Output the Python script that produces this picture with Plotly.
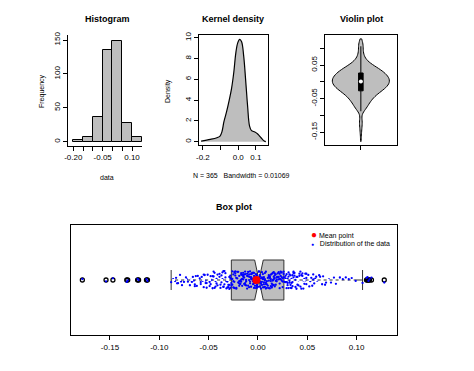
import numpy as np
import plotly.graph_objects as go

data = [
    -0.178, -0.154, -0.147, -0.133, -0.132, -0.122, -0.121, -0.113, -0.112,
    -0.088, -0.086, -0.084, -0.083, -0.082, -0.081,
    -0.079, -0.078, -0.077, -0.075, -0.074, -0.073, -0.072, -0.071,
    -0.069, -0.068, -0.067, -0.066, -0.065, -0.064, -0.064, -0.063, -0.062, -0.061,
    -0.059, -0.058, -0.058, -0.057, -0.056, -0.055, -0.055, -0.054, -0.053, -0.053,
    -0.052, -0.052, -0.051,
    -0.049, -0.049, -0.048, -0.048, -0.047, -0.046, -0.046, -0.045, -0.045, -0.044,
    -0.044, -0.043, -0.043, -0.042, -0.042, -0.041, -0.041,
    -0.039, -0.039, -0.038, -0.038, -0.037, -0.037, -0.036, -0.036, -0.035, -0.035,
    -0.035, -0.034, -0.034, -0.033, -0.033, -0.032, -0.032, -0.031, -0.031, -0.030, -0.030,
    -0.029, -0.029, -0.029, -0.028, -0.028, -0.028, -0.027, -0.027, -0.027, -0.026,
    -0.026, -0.026, -0.025, -0.025, -0.025, -0.024, -0.024, -0.024, -0.023, -0.023,
    -0.023, -0.022, -0.022, -0.022, -0.021, -0.021, -0.020, -0.020,
    -0.019, -0.019, -0.019, -0.019, -0.018, -0.018, -0.018, -0.017, -0.017, -0.017,
    -0.017, -0.016, -0.016, -0.016, -0.015, -0.015, -0.015, -0.015, -0.014, -0.014,
    -0.014, -0.013, -0.013, -0.013, -0.013, -0.012, -0.012, -0.012, -0.011, -0.011,
    -0.011, -0.010, -0.010, -0.010,
    -0.009, -0.009, -0.009, -0.009, -0.008, -0.008, -0.008, -0.008, -0.007, -0.007,
    -0.007, -0.007, -0.006, -0.006, -0.006, -0.005, -0.005, -0.005, -0.005, -0.004,
    -0.004, -0.004, -0.004, -0.003, -0.003, -0.003, -0.003, -0.002, -0.002, -0.002,
    -0.002, -0.001, -0.001, -0.001, -0.001, -0.001,
    0.001, 0.001, 0.001, 0.001, 0.002, 0.002, 0.002, 0.002, 0.003, 0.003,
    0.003, 0.003, 0.004, 0.004, 0.004, 0.004, 0.005, 0.005, 0.005, 0.005,
    0.006, 0.006, 0.006, 0.006, 0.007, 0.007, 0.007, 0.007, 0.008, 0.008,
    0.008, 0.008, 0.009, 0.009, 0.009, 0.010, 0.010,
    0.011, 0.011, 0.011, 0.011, 0.012, 0.012, 0.012, 0.012, 0.013, 0.013,
    0.013, 0.013, 0.014, 0.014, 0.014, 0.014, 0.015, 0.015, 0.015, 0.015,
    0.016, 0.016, 0.016, 0.016, 0.017, 0.017, 0.017, 0.017, 0.018, 0.018,
    0.018, 0.019, 0.019, 0.019, 0.020, 0.020,
    0.021, 0.021, 0.021, 0.022, 0.022, 0.022, 0.022, 0.023, 0.023, 0.023,
    0.024, 0.024, 0.024, 0.025, 0.025, 0.025, 0.026, 0.026, 0.026, 0.027,
    0.027, 0.027, 0.028, 0.028, 0.028, 0.029, 0.029, 0.029, 0.030, 0.030, 0.030,
    0.031, 0.031, 0.031, 0.032, 0.032, 0.032, 0.033, 0.033, 0.033, 0.034,
    0.034, 0.034, 0.035, 0.035, 0.035, 0.036, 0.036, 0.036, 0.037, 0.037,
    0.038, 0.038, 0.039, 0.039, 0.040, 0.040,
    0.041, 0.041, 0.042, 0.042, 0.043, 0.043, 0.044, 0.044, 0.045, 0.045,
    0.046, 0.046, 0.047, 0.047, 0.048, 0.048, 0.049, 0.049, 0.049,
    0.051, 0.052, 0.053, 0.054, 0.055, 0.056, 0.056, 0.057, 0.058, 0.059, 0.060,
    0.062, 0.063, 0.065, 0.066, 0.068, 0.069,
    0.072, 0.074, 0.077, 0.079,
    0.083, 0.086, 0.089,
    0.092, 0.095, 0.099,
    0.106, 0.110, 0.111, 0.112, 0.113, 0.115, 0.128,
]

# kernel density curve (bw = 0.01069)
dens_x = [-0.210, -0.158, -0.121, -0.103, -0.092, -0.081, -0.066, -0.051, -0.038, -0.025,
          -0.014, -0.003, 0.008, 0.019, 0.031, 0.042, 0.053, 0.064, 0.075, 0.094,
          0.110, 0.129, 0.147, 0.156]
dens_y = [0.06, 0.22, 0.38, 0.54, 0.96, 1.92, 2.88, 4.0, 5.1, 6.7,
          8.5, 9.5, 9.84, 9.6, 8.2, 5.9, 3.4, 1.5, 1.06, 0.93,
          0.74, 0.38, 0.06, 0.0]

hist_ticks = [-0.20, -0.15, -0.10, -0.05, 0.00, 0.05, 0.10]
hist_labels = ["-0.20", "", "", "-0.05", "", "", "0.10"]
dens_xticks = [-0.2, -0.1, 0.0, 0.1]
dens_xlabels = ["-0.2", "", "0.0", "0.1"]
dens_yticks = [0, 2, 4, 6, 8, 10]
violin_ticks = [-0.15, -0.10, -0.05, 0.00, 0.05, 0.10]
violin_labels = ["-0.15", "", "-0.05", "", "0.05", ""]
box_ticks = [-0.15, -0.10, -0.05, 0.00, 0.05, 0.10]
box_labels = ["-0.15", "-0.10", "-0.05", "0.00", "0.05", "0.10"]

W, H = 474, 371
GRAY = "#BEBEBE"
FONT = "Liberation Sans, Arial, sans-serif"


def dx(a, b):
    return [a / W, b / W]


def dy(top, bottom):
    return [1 - bottom / H, 1 - top / H]


values = np.array(data)
q1, q3 = np.percentile(values, [25, 75])
iqr = q3 - q1
lo_whisk = values[values >= q1 - 1.5 * iqr].min()
hi_whisk = values[values <= q3 + 1.5 * iqr].max()

fig = go.Figure()

# histogram
fig.add_trace(
    go.Histogram(
        x=data,
        xbins=dict(start=-0.2, end=0.15, size=0.05),
        marker=dict(color=GRAY, line=dict(color="black", width=1)),
        xaxis="x",
        yaxis="y",
    )
)

# kernel density
fig.add_trace(
    go.Scatter(
        x=dens_x,
        y=dens_y,
        mode="lines",
        line=dict(color="black", width=1.2, shape="spline"),
        fill="tozeroy",
        fillcolor=GRAY,
        xaxis="x2",
        yaxis="y2",
    )
)

# violin
fig.add_trace(
    go.Violin(
        y=data,
        x0=0,
        width=1.05,
        scalemode="width",
        spanmode="hard",
        bandwidth=0.0115,
        fillcolor=GRAY,
        line=dict(color="black", width=1),
        box=dict(visible=True, width=0.08, fillcolor="black", line=dict(color="black", width=1)),
        meanline=dict(visible=False),
        points=False,
        xaxis="x3",
        yaxis="y3",
    )
)
fig.add_trace(
    go.Scatter(
        x=[0],
        y=[float(np.median(values))],
        mode="markers",
        marker=dict(color="white", size=4),
        xaxis="x3",
        yaxis="y3",
    )
)

# box plot with outliers
fig.add_trace(
    go.Box(
        x=data,
        y0=0,
        orientation="h",
        width=0.4,
        notched=True,
        notchwidth=0.5,
        boxpoints="outliers",
        whiskerwidth=0.5,
        fillcolor=GRAY,
        line=dict(color="#333333", width=1),
        marker=dict(symbol="circle-open", color="black", size=4, line=dict(width=1.3)),
        xaxis="x4",
        yaxis="y4",
    )
)
# break the whiskers into dashes, like R's lty = 2
for a, b in [(lo_whisk + 0.001, q1 - 0.001), (q3 + 0.001, hi_whisk - 0.001)]:
    fig.add_trace(
        go.Scatter(
            x=[a, b],
            y=[0, 0],
            mode="lines",
            line=dict(color="white", width=2, dash="3px,3px"),
            xaxis="x4",
            yaxis="y4",
        )
    )
# jittered raw data
fig.add_trace(
    go.Box(
        x=data,
        y0=0,
        orientation="h",
        width=0.4,
        boxpoints="all",
        jitter=0.45,
        pointpos=0,
        fillcolor="rgba(0,0,0,0)",
        line=dict(color="rgba(0,0,0,0)", width=0),
        marker=dict(color="blue", size=2.3),
        xaxis="x4",
        yaxis="y4",
    )
)
fig.add_trace(
    go.Scatter(
        x=[float(values.mean())],
        y=[0],
        mode="markers",
        marker=dict(color="red", size=8),
        xaxis="x4",
        yaxis="y4",
    )
)

axis_common = dict(
    showgrid=False,
    zeroline=False,
    showline=True,
    linecolor="black",
    linewidth=1,
    ticks="outside",
    ticklen=4,
    tickcolor="black",
    automargin=False,
    tickfont=dict(size=8, color="black"),
)

fig.update_layout(
    width=W,
    height=H,
    margin=dict(l=0, r=0, t=0, b=0),
    paper_bgcolor="white",
    plot_bgcolor="white",
    font=dict(family=FONT, color="black"),
    showlegend=False,
    bargap=0,
    boxmode="overlay",
    violinmode="overlay",
    violingap=0,
    violingroupgap=0,
    xaxis=dict(axis_common, domain=dx(68, 142), range=[-0.227, 0.151], anchor="y",
               tickvals=hist_ticks, ticktext=hist_labels),
    yaxis=dict(axis_common, domain=dy(35, 145.7), range=[-5.9, 157.4], anchor="x",
               tickvals=[0, 50, 100, 150], tickangle=-90),
    xaxis2=dict(axis_common, domain=dx(199, 268.3), range=[-0.222, 0.170], anchor="y2",
                mirror=True, tickvals=dens_xticks, ticktext=dens_xlabels),
    yaxis2=dict(axis_common, domain=dy(35, 145), range=[-0.32, 10.26], anchor="x2",
                mirror=True, tickvals=dens_yticks, tickangle=-90),
    xaxis3=dict(axis_common, domain=dx(325, 396.7), range=[-0.66, 0.66], anchor="y3",
                mirror=True, type="linear", tickvals=[0], ticktext=[""]),
    yaxis3=dict(axis_common, domain=dy(35, 145), range=[-0.1888, 0.1397], anchor="x3",
                mirror=True, tickvals=violin_ticks, ticktext=violin_labels, tickangle=-90),
    xaxis4=dict(axis_common, domain=dx(71, 397), range=[-0.1895, 0.1409], anchor="y4",
                mirror=True, tickvals=box_ticks, ticktext=box_labels),
    yaxis4=dict(axis_common, domain=dy(225, 335), range=[-0.55, 0.55], anchor="x4",
                mirror=True, type="linear", ticks="", showticklabels=False),
)

titles = [
    ("Histogram", 107, 19),
    ("Kernel density", 233, 19),
    ("Violin plot", 361, 19),
    ("Box plot", 234, 207),
]
for text, x, y in titles:
    fig.add_annotation(text=f"<b>{text}</b>", x=x / W, y=1 - y / H, xref="paper", yref="paper",
                       xanchor="center", yanchor="middle", showarrow=False, font=dict(size=9))

labels = [
    ("Frequency", 42, 91, -90),
    ("Density", 168, 91, -90),
    ("data", 107, 177, 0),
    ("N = 365   Bandwidth = 0.01069", 241, 175, 0),
]
for text, x, y, angle in labels:
    fig.add_annotation(text=text, x=x / W, y=1 - y / H, xref="paper", yref="paper",
                       xanchor="center", yanchor="middle", showarrow=False,
                       textangle=angle, font=dict(size=7))

# legend of the box plot, drawn as text
legend_rows = [
    ("<span style='color:red;font-size:10px'>●</span> Mean point", 234),
    ("<span style='color:blue;font-size:5px'>●</span>   Distribution of the data", 243),
]
for text, y in legend_rows:
    fig.add_annotation(text=text, x=309 / W, y=1 - y / H, xref="paper", yref="paper",
                       xanchor="left", yanchor="middle", showarrow=False, font=dict(size=7))

fig.write_html(
    "out.html",
    config={"displayModeBar": False},
    post_script="document.body.style.margin='0';",
)
